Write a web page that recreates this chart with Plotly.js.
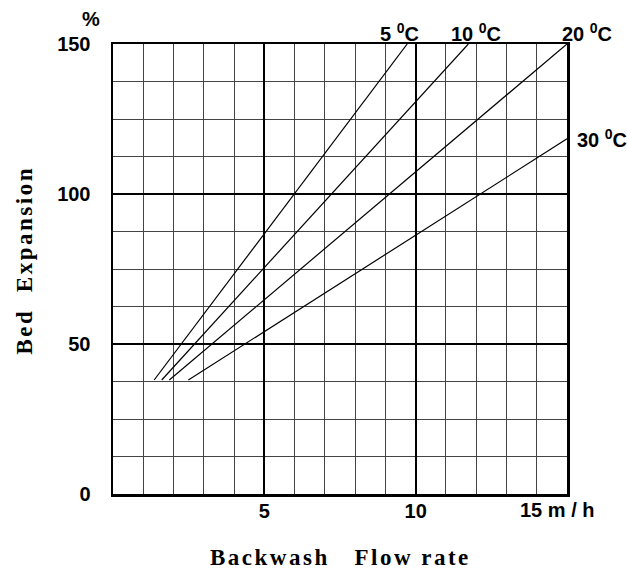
<!DOCTYPE html>
<html>
<head>
<meta charset="utf-8">
<script src="https://cdn.plot.ly/plotly-3.0.1.min.js"></script>
<style>
html,body{margin:0;padding:0;background:#fff;}
#chart{width:627px;height:571px;}
</style>
</head>
<body>
<div id="chart"></div>
<script>
// Data
const seriesNames = ["5 <sup>0</sup>C", "10 <sup>0</sup>C", "20 <sup>0</sup>C", "30 <sup>0</sup>C"];
const flowStart = [1.36, 1.61, 1.86, 2.49];
const flowEnd = [9.72, 11.74, 15.0, 15.0];
const expStart = [38, 38, 38, 38];
const expEnd = [150, 150, 150, 118.4];
const xTickVals = [5, 10];
const xTickText = ["5", "10"];
const yTickVals = [0, 50, 100, 150];
const yTickText = ["0", "50", "100", "150"];

const numFont = {family: "'Liberation Sans', Arial, sans-serif", size: 20, color: "#000", weight: "bold"};
const titleFont = {family: "'Liberation Serif', 'Times New Roman', serif", size: 23, color: "#000", weight: "bold"};

const traces = seriesNames.map((n, i) => ({
  type: "scatter", mode: "lines", name: n,
  x: [flowStart[i], flowEnd[i]],
  y: [expStart[i], expEnd[i]],
  line: {color: "#000", width: 1.2},
  showlegend: false, hoverinfo: "skip"
}));

const labelPos = [
  {x: 9.5, y: 150, xs: -1, ys: 12, xa: "center"},
  {x: 12.0, y: 150, xs: 0, ys: 12, xa: "center"},
  {x: 15.0, y: 150, xs: 20, ys: 12, xa: "center"},
  {x: 15.0, y: 118.4, xs: 8, ys: 0, xa: "left"}
];
const annotations = seriesNames.map((n, i) => ({
  x: labelPos[i].x, y: labelPos[i].y, xref: "x", yref: "y",
  text: n, showarrow: false, xanchor: labelPos[i].xa, yanchor: "middle",
  xshift: labelPos[i].xs, yshift: labelPos[i].ys, font: numFont
}));
annotations.push({x: 15, y: 0, xref: "x", yref: "y", text: "15 m / h", showarrow: false,
  xanchor: "right", yanchor: "top", xshift: 29, yshift: -3, font: numFont});
annotations.push({x: 0, y: 150, xref: "x", yref: "y", text: "%", showarrow: false,
  xanchor: "right", yanchor: "middle", xshift: -11, yshift: 25, font: numFont});
annotations.push({x: 0.5, y: -0.141, xref: "paper", yref: "paper",
  text: '<span style="letter-spacing:2.5px">Backwash\u00A0\u00A0 Flow\u00A0rate</span>',
  showarrow: false, xanchor: "center", yanchor: "middle", font: titleFont});
annotations.push({x: -0.195, y: 0.52, xref: "paper", yref: "paper",
  text: '<span style="letter-spacing:2.5px">Bed\u00A0 Expansion</span>',
  showarrow: false, xanchor: "center", yanchor: "middle", textangle: -90, font: titleFont});

const layout = {
  width: 627, height: 571,
  margin: {l: 113, r: 60, t: 44, b: 77, pad: 0},
  paper_bgcolor: "#fff", plot_bgcolor: "#fff",
  xaxis: {
    range: [0, 15], tickvals: xTickVals, ticktext: xTickText, ticks: "",
    ticklabelstandoff: -3,
    showgrid: true, gridcolor: "#000", gridwidth: 2,
    minor: {dtick: 1, showgrid: true, gridcolor: "#444", gridwidth: 1, ticks: ""},
    showline: true, linecolor: "#000", linewidth: 2.5, mirror: true,
    zeroline: false, tickfont: numFont, fixedrange: true
  },
  yaxis: {
    range: [0, 150], tickvals: yTickVals, ticktext: yTickText, ticks: "",
    ticklabelstandoff: 16,
    showgrid: true, gridcolor: "#000", gridwidth: 2,
    minor: {dtick: 12.5, showgrid: true, gridcolor: "#444", gridwidth: 1, ticks: ""},
    showline: true, linecolor: "#000", linewidth: 2.5, mirror: true,
    zeroline: false, tickfont: numFont, fixedrange: true
  },
  annotations: annotations
};

Plotly.newPlot("chart", traces, layout, {staticPlot: true, displayModeBar: false});
</script>
</body>
</html>
